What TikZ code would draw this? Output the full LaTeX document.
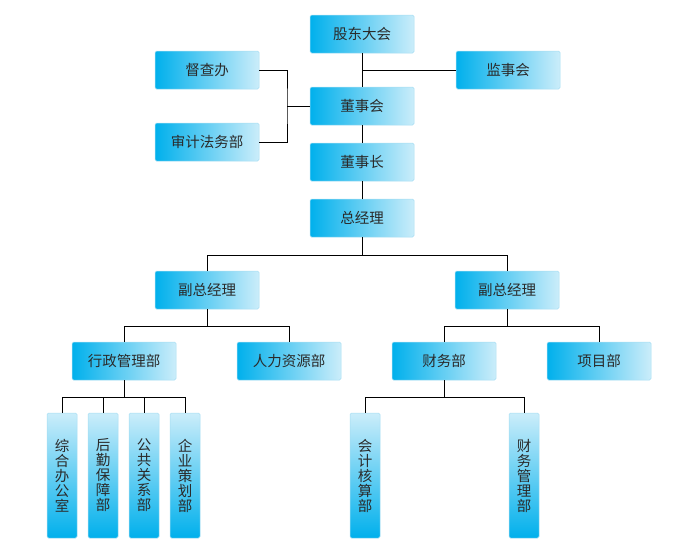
\documentclass[tikz,border=0pt]{standalone}
\usepackage{fontspec}
\setmainfont{Noto Sans CJK SC}
\usepackage{tikz}
\usetikzlibrary{positioning}

\definecolor{boxblue}{HTML}{00B0EC}
\definecolor{boxpale}{HTML}{CBEDFA}
\definecolor{boxline}{HTML}{A6DDF2}
\definecolor{txtgray}{HTML}{2A2A2A}

\tikzset{
  hbox/.style={draw=boxline, line width=0.5pt, rounded corners=1.5pt,
    left color=boxblue, right color=boxpale, text=txtgray,
    minimum width=104pt, minimum height=38pt, inner sep=0pt,
    font=\fontsize{14.5}{15}\selectfont},
  vbox/.style={draw=boxline, line width=0.5pt, rounded corners=1.5pt,
    top color=boxpale, bottom color=boxblue, text=txtgray,
    minimum width=30pt, minimum height=125pt, inner sep=0pt, align=center,
    font=\fontsize{14.5}{15}\selectfont},
  link/.style={draw=black, line width=0.9pt}
}

\begin{document}
\begin{tikzpicture}[x=1pt,y=-1pt]
        \useasboundingbox (0,0) rectangle (700,555);

        %top of the chart
        \node[hbox] (gd)   at (362,34)  {股东大会};
        \node[hbox] (jsh)  at (508,70)  {监事会};
        \node[hbox] (dcb)  at (207,70)  {督查办};
        \node[hbox] (dsh)  at (362,106) {董事会};
        \node[hbox] (sjfw) at (207,142) {审计法务部};
        \node[hbox] (dsz)  at (362,162) {董事长};
        \node[hbox] (zjl)  at (362,218) {总经理};

        %managers and departments
        \node[hbox] (fzl1) at (207,290) {副总经理};
        \node[hbox] (fzl2) at (507,290) {副总经理};
        \node[hbox] (xz)   at (124,361) {行政管理部};
        \node[hbox] (rl)   at (289,361) {人力资源部};
        \node[hbox] (cw)   at (444,361) {财务部};
        \node[hbox] (xm)   at (599,361) {项目部};

        %sections, one character per line
        \foreach \name/\xpos/\txt in {zh/62/{综\\合\\办\\公\\室},hq/103/{后\\勤\\保\\障\\部},
            gg/144/{公\\共\\关\\系\\部},qy/185/{企\\业\\策\\划\\部},
            kj/365/{会\\计\\核\\算\\部},cg/524/{财\\务\\管\\理\\部}}{
          \node[vbox] (\name) at (\xpos,475.5) {\txt};
        }

        %branch points
        \coordinate (j1) at (287,106);
        \coordinate (b1) at (362,255);
        \coordinate (b2) at (207,326);
        \coordinate (b3) at (507,326);
        \coordinate (b4) at (124,397);
        \coordinate (b5) at (444,397);

        %connect everything
        \draw[link] (gd.south) -- (dsh.north);
        \draw[link] (jsh.west) -- (jsh.west -| gd.south);
        \draw[link] (dcb.east) -| (j1) |- (sjfw.east);
        \draw[link] (j1) -- (dsh.west);
        \draw[link] (dsh.south) -- (dsz.north);
        \draw[link] (dsz.south) -- (zjl.north);
        \foreach \kid in {fzl1,fzl2}{
          \draw[link] (zjl.south) -- (b1) -| (\kid.north);
        }
        \foreach \kid in {xz,rl}{
          \draw[link] (fzl1.south) -- (b2) -| (\kid.north);
        }
        \foreach \kid in {cw,xm}{
          \draw[link] (fzl2.south) -- (b3) -| (\kid.north);
        }
        \foreach \kid in {zh,hq,gg,qy}{
          \draw[link] (xz.south) -- (b4) -| (\kid.north);
        }
        \foreach \kid in {kj,cg}{
          \draw[link] (cw.south) -- (b5) -| (\kid.north);
        }
      \end{tikzpicture}
\end{document}
